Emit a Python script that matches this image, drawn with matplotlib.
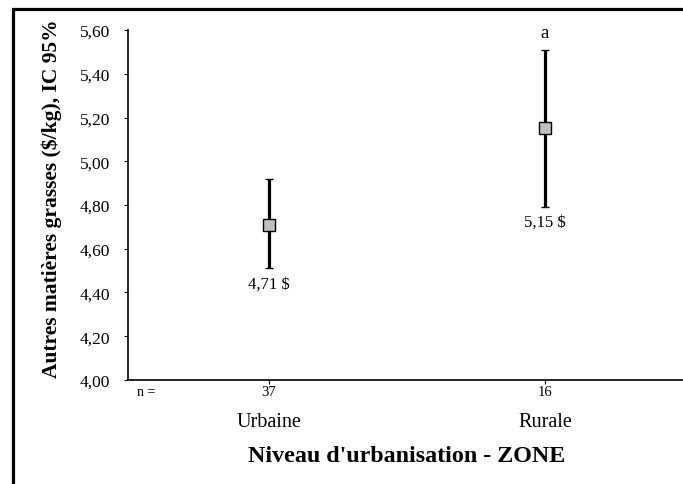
import matplotlib
matplotlib.use("Agg")
import matplotlib.pyplot as plt
from matplotlib.ticker import FuncFormatter, MultipleLocator
from matplotlib.patches import Rectangle

categories = ["Urbaine", "Rurale"]
n_values = [37, 16]
means = [4.71, 5.15]
ci_low = [4.51, 4.79]
ci_high = [4.92, 5.51]
value_labels = ["4,71 $", "5,15 $"]
letters = ["", "a"]

plt.rcParams['font.family'] = ['Liberation Serif', 'DejaVu Serif']

W, H = 683, 485
fig = plt.figure(figsize=(W / 100, H / 100), dpi=100)

# figure frame (cropped at right and bottom)
fig.patches.append(Rectangle((13 / W, -0.05), 1.2, 1 - 9.5 / H + 0.05,
                             transform=fig.transFigure, fill=False,
                             edgecolor='black', linewidth=2.3, zorder=0))

L, R, T, B = 128, 683, 31, 381
ax = fig.add_axes([L / W, 1 - B / H, (R - L) / W, (B - T) / H])
x = list(range(len(categories)))
yerr = [[m - lo for m, lo in zip(means, ci_low)],
        [hi - m for m, hi in zip(means, ci_high)]]
ax.errorbar(x, means, yerr=yerr, fmt='s', color='black', ecolor='black',
            elinewidth=2.3, capsize=3.0, capthick=2.5,
            markerfacecolor='#c0c0c0', markeredgecolor='black',
            markeredgewidth=1.0, markersize=8, zorder=3)

for xi, lo, hi, lab, let in zip(x, ci_low, ci_high, value_labels, letters):
    ax.annotate(lab, (xi, lo), xytext=(0, -5), textcoords='offset points',
                ha='center', va='top', fontsize=12)
    if let:
        ax.annotate(let, (xi, hi), xytext=(0, 6), textcoords='offset points',
                    ha='center', va='bottom', fontsize=13.5)

ax.set_ylim(4.0, 5.6)
ax.set_xlim(-(269 - L) / 276, 1 + (R - 545) / 276)
ax.yaxis.set_major_locator(MultipleLocator(0.2))
ax.yaxis.set_major_formatter(FuncFormatter(lambda v, p: f"{v:.2f}".replace('.', ',')))
ax.set_xticks(x)
ax.set_xticklabels([])
ax.tick_params(axis='x', length=3, width=0.8)
ax.tick_params(axis='y', labelsize=12.5, length=3, width=0.8, pad=10)
for s in ['top', 'right']:
    ax.spines[s].set_visible(False)
for s in ['left', 'bottom']:
    ax.spines[s].set_linewidth(1.2)

fig.text(52 / W, 1 - 199 / H, "Autres matières grasses ($/kg), IC 95%",
         fontsize=15.5, fontweight='bold', rotation=90,
         ha='center', va='center')

fig.text(146 / W, 1 - 393 / H, "n =", fontsize=10, ha='center', va='center')
for xi, cat, n in zip(x, categories, n_values):
    ax.annotate(str(n), (xi, 0), xycoords=('data', 'axes fraction'),
                xytext=(0, -8.5), textcoords='offset points',
                ha='center', va='center', fontsize=10.5)
    ax.annotate(cat, (xi, 0), xycoords=('data', 'axes fraction'),
                xytext=(0, -30), textcoords='offset points',
                ha='center', va='center', fontsize=14.5)

fig.text(407 / W, 1 - 457 / H, "Niveau d'urbanisation - ZONE",
         fontsize=17.3, fontweight='bold', ha='center', va='center')

fig.savefig("out.png", dpi=100)
